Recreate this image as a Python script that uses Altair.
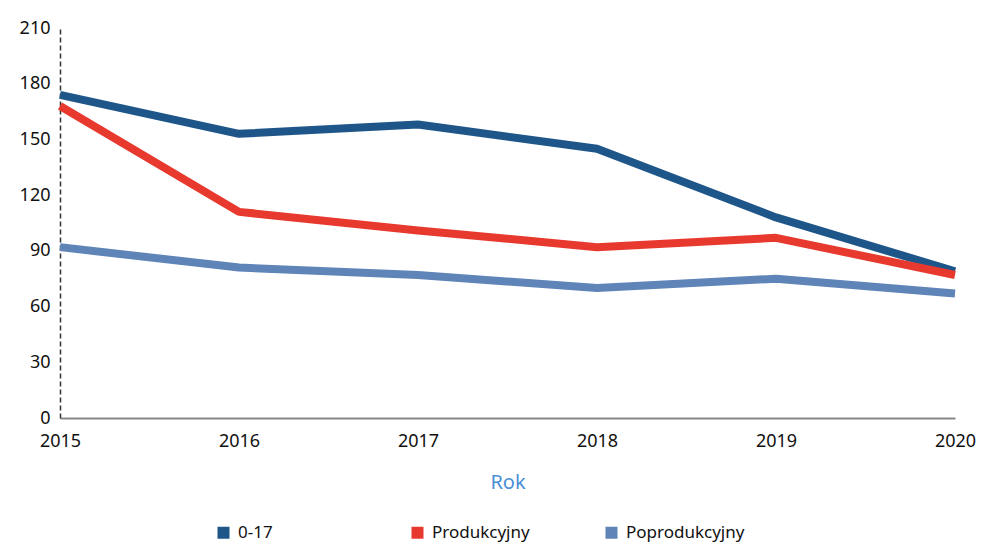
import altair as alt
import pandas as pd

years = [2015, 2016, 2017, 2018, 2019, 2020]
series_names = ["0-17", "Produkcyjny", "Poprodukcyjny"]
v_0_17 = [174, 153, 158, 145, 108, 79]
v_prod = [168, 111, 101, 92, 97, 77]
v_poprod = [92, 81, 77, 70, 75, 67]
colors = ["#1f5689", "#e8392e", "#5e84b8"]
y_ticks = [0, 30, 60, 90, 120, 150, 180, 210]

rows = []
for name, vals in zip(series_names, [v_0_17, v_prod, v_poprod]):
    for yr, v in zip(years, vals):
        rows.append({"Rok": yr, "Wartość": v, "Grupa": name})
df = pd.DataFrame(rows)

FONT = "Noto Sans"

chart = alt.Chart(df).mark_line(strokeWidth=8, strokeJoin="round").encode(
    x=alt.X("Rok:O", scale=alt.Scale(type="point", padding=0),
            axis=alt.Axis(title="Rok", labelAngle=0, labelFontSize=18, labelColor="#111",
                          labelFont=FONT, titleFont=FONT, titleFontSize=20,
                          titleFontWeight="normal", titleColor="#4a8fd6",
                          titlePadding=22, labelPadding=14, ticks=False,
                          domainColor="#888", domainWidth=2, grid=False)),
    y=alt.Y("Wartość:Q", scale=alt.Scale(domain=[0, 210], nice=False),
            axis=alt.Axis(title=None, values=y_ticks, labelFontSize=18, labelColor="#111",
                          labelFont=FONT, labelPadding=10, ticks=False,
                          domainColor="#333", domainDash=[5, 3], domainWidth=1.5, grid=False)),
    color=alt.Color("Grupa:N", scale=alt.Scale(domain=series_names, range=colors),
                    sort=series_names,
                    legend=alt.Legend(title=None, orient="none", direction="horizontal",
                                      legendX=155, legendY=496, gridAlign="all",
                                      columnPadding=45, symbolType="square",
                                      symbolSize=36, symbolStrokeWidth=6,
                                      labelFontSize=17, labelFont=FONT, labelColor="#111",
                                      labelOffset=6)),
).properties(
    width=895, height=390,
    autosize=alt.AutoSizeParams(type="none"),
    padding={"left": 52, "top": 20, "right": 25, "bottom": 126},
).configure_view(stroke=None)

chart.save("out.html", embed_options={"renderer": "svg", "actions": False})
